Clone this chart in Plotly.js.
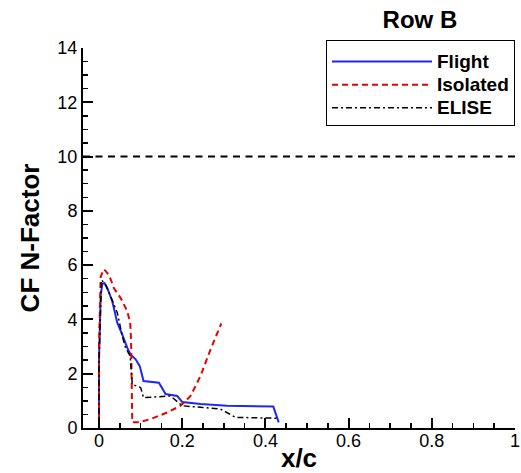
<!DOCTYPE html>
<html>
<head>
<meta charset="utf-8">
<script src="https://cdn.plot.ly/plotly-3.0.1.min.js"></script>
<style>html,body{margin:0;padding:0;background:#fff;}#chart{width:521px;height:473px;}</style>
</head>
<body>
<div id="chart"></div>
<script>
// ---- data ----
const flightX = [0, 0, 0.004, 0.008, 0.013, 0.020, 0.032, 0.044, 0.056, 0.068, 0.076, 0.088, 0.098, 0.107, 0.144, 0.160, 0.188, 0.200, 0.244, 0.308, 0.419, 0.432];
const flightY = [0, 2.5, 4.9, 5.31, 5.34, 5.15, 4.66, 3.87, 3.44, 2.95, 2.71, 2.53, 2.28, 1.73, 1.67, 1.25, 1.18, 0.96, 0.88, 0.82, 0.79, 0.21];

const isolatedX = [0, 0, 0.004, 0.012, 0.024, 0.036, 0.052, 0.068, 0.075, 0.077, 0.080, 0.096, 0.124, 0.164, 0.196, 0.220, 0.244, 0.268, 0.294];
const isolatedY = [0, 3.0, 5.58, 5.85, 5.64, 5.15, 4.79, 4.30, 3.87, 3.26, 0.21, 0.21, 0.33, 0.57, 0.82, 1.18, 1.92, 2.89, 3.85];

const eliseX = [0, 0, 0.006, 0.016, 0.028, 0.044, 0.056, 0.064, 0.075, 0.080, 0.100, 0.107, 0.172, 0.200, 0.244, 0.292, 0.328, 0.432];
const eliseY = [0, 2.5, 5.46, 5.27, 4.85, 4.24, 3.38, 2.95, 2.65, 1.61, 1.49, 1.12, 1.18, 0.82, 0.76, 0.70, 0.39, 0.36];

const seriesNames = ["Flight", "Isolated", "ELISE"];
const thresholdN = 10;
const chartTitle = "Row B";
const xTitle = "x/c";
const yTitle = "CF N-Factor";

const FONT = "Liberation Sans, Arial, Helvetica, sans-serif";
const legendLabel = (s) => "<span style='font-size:19px'>" + s + "</span>";

const traces = [
  {x: flightX, y: flightY, name: legendLabel(seriesNames[0]), mode: "lines",
   line: {color: "rgb(30,40,245)", width: 2}},
  {x: isolatedX, y: isolatedY, name: legendLabel(seriesNames[1]), mode: "lines",
   line: {color: "rgb(230,0,0)", width: 2, dash: "6px,4px"}},
  {x: eliseX, y: eliseY, name: legendLabel(seriesNames[2]), mode: "lines",
   line: {color: "black", width: 1.5, dash: "6px,3px,2px,3px"}}
];

const layout = {
  width: 521, height: 473,
  margin: {l: 83, r: 6, t: 48, b: 45},
  paper_bgcolor: "white", plot_bgcolor: "white",
  font: {family: FONT, color: "black", size: 18},
  title: {text: chartTitle, font: {family: FONT, size: 24, weight: "bold", color: "black"},
          xref: "paper", x: 0.78, xanchor: "center", yref: "container", y: 0.958, yanchor: "middle"},
  showlegend: true,
  legend: {x: 1, xanchor: "right", y: 1.021, yanchor: "top",
           bordercolor: "black", borderwidth: 1, bgcolor: "white",
           font: {family: FONT, size: 15.5, weight: "bold", color: "black"},
           title: {text: "&nbsp;", font: {size: 3}},
           itemwidth: 100, tracegroupgap: 0},
  xaxis: {
    range: [-0.0385, 1.0], showgrid: false, zeroline: false,
    showline: true, linecolor: "black", linewidth: 2,
    ticks: "inside", ticklen: 10, tickwidth: 2, tickcolor: "black",
    tick0: 0, dtick: 0.2, tickfont: {family: FONT, size: 18},
    ticklabelstandoff: -5,
    minor: {dtick: 0.05, ticks: "inside", ticklen: 5, tickwidth: 1.5, tickcolor: "black"},
    title: {text: xTitle, font: {family: FONT, size: 26, weight: "bold"}, standoff: 4}
  },
  yaxis: {
    range: [0, 14], showgrid: false, zeroline: false,
    showline: true, linecolor: "black", linewidth: 2,
    ticks: "inside", ticklen: 10, tickwidth: 2, tickcolor: "black",
    tick0: 0, dtick: 2, tickfont: {family: FONT, size: 18},
    minor: {dtick: 0.5, ticks: "inside", ticklen: 5, tickwidth: 1.5, tickcolor: "black"},
    title: {text: yTitle, font: {family: FONT, size: 26, weight: "bold"}, standoff: 10}
  },
  shapes: [
    {type: "line", xref: "paper", x0: 0, x1: 1, yref: "y", y0: thresholdN, y1: thresholdN,
     line: {color: "black", width: 2, dash: "7px,5.5px"}}
  ]
};

Plotly.newPlot("chart", traces, layout, {displayModeBar: false, staticPlot: true});
</script>
</body>
</html>
